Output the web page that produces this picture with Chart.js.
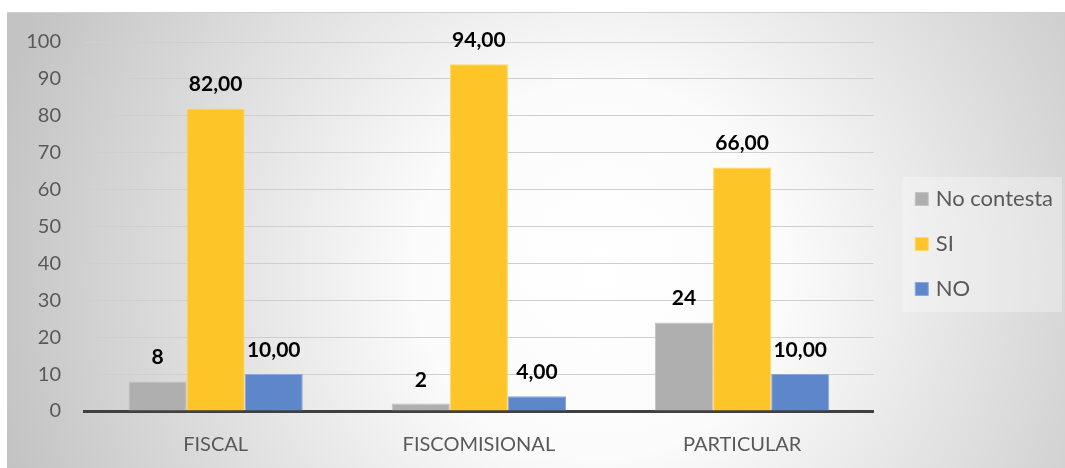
<!DOCTYPE html>
<html>
<head>
<meta charset="utf-8">
<script src="https://cdn.jsdelivr.net/npm/chart.js@4/dist/chart.umd.min.js"></script>
<style>
  html, body { margin: 0; padding: 0; background: #fff; }
  #wrap { width: 1065px; height: 468px; position: relative; }
</style>
</head>
<body>
<div id="wrap"><canvas id="barChart"></canvas></div>
<script>
let categories = ['FISCAL', 'FISCOMISIONAL', 'PARTICULAR'];
let seriesNames = ['No contesta', 'SI', 'NO'];
let noContesta = [8, 2, 24];
let si = [82, 94, 66];
let no = [10, 4, 10];
let labelDecimals = [0, 2, 2];
let yTicks = [0, 10, 20, 30, 40, 50, 60, 70, 80, 90, 100];

let fontName = 'Lato, "Open Sans", sans-serif';

// panel background with the soft radial gradient and the lighter legend box
let panelBackground = {
    id: 'panelBackground',
    beforeDraw(chart) {
        let ctx = chart.ctx;
        ctx.save();
        ctx.fillStyle = '#ffffff';
        ctx.fillRect(0, 0, chart.width, chart.height);
        let g = ctx.createRadialGradient(600, 270, 0, 600, 270, 620);
        g.addColorStop(0, '#ffffff');
        g.addColorStop(0.3, '#fbfbfb');
        g.addColorStop(1, '#c3c3c3');
        ctx.fillStyle = g;
        ctx.fillRect(7, 12, chart.width - 7, chart.height - 12);
        ctx.fillStyle = '#cfcfcf';
        ctx.fillRect(7, 12, chart.width - 7, 1);

        let boxes = chart.legend.legendHitBoxes;
        if (boxes && boxes.length) {
            let first = boxes[0];
            let last = boxes[boxes.length - 1];
            let left = first.left - 16.5;
            let top = first.top - 11;
            let bottom = last.top + last.height + 12;
            ctx.fillStyle = 'rgba(255,255,255,0.3)';
            ctx.fillRect(left, top, chart.width - 3 - left, bottom - top);
        }
        ctx.restore();
    }
};

// value labels above every bar
let barLabels = {
    id: 'barLabels',
    afterDatasetsDraw(chart) {
        let ctx = chart.ctx;
        ctx.save();
        ctx.font = 'bold 21px ' + fontName;
        ctx.fillStyle = '#000000';
        ctx.textAlign = 'center';
        ctx.textBaseline = 'alphabetic';
        chart.data.datasets.forEach((ds, i) => {
            let meta = chart.getDatasetMeta(i);
            meta.data.forEach((bar, j) => {
                let txt = ds.data[j].toFixed(labelDecimals[i]).replace('.', ',');
                ctx.fillText(txt, bar.x, bar.y - 17);
            });
        });
        ctx.restore();
    }
};

let canvasBar = document.getElementById('barChart');
let ctxBar = canvasBar.getContext('2d');

let barChart = new Chart(ctxBar, {
    type: 'bar',
    data: {
        labels: categories,
        datasets: [{
            label: seriesNames[0],
            data: noContesta,
            backgroundColor: '#afafaf',
            borderColor: '#c4c4c4',
            borderWidth: 1
        }, {
            label: seriesNames[1],
            data: si,
            backgroundColor: '#fdc527',
            borderColor: '#ffd866',
            borderWidth: 1
        }, {
            label: seriesNames[2],
            data: no,
            backgroundColor: '#5e87cb',
            borderColor: '#8aa8dc',
            borderWidth: 1
        }]
    },
    options: {
        responsive: true,
        maintainAspectRatio: false,
        animation: false,
        categoryPercentage: 0.662,
        barPercentage: 1,
        layout: {
            padding: { left: 26, right: 2, top: 32, bottom: 12 }
        },
        plugins: {
            // empty spacer above the plot only, so the legend keeps its centre
            title: {
                display: true,
                text: '',
                fullSize: false,
                padding: 0,
                font: { size: 10, lineHeight: 1 }
            },
            legend: {
                display: true,
                position: 'right',
                align: 'center',
                labels: {
                    color: '#595959',
                    font: { family: fontName, size: 22 },
                    usePointStyle: true,
                    pointStyle: 'rect',
                    boxWidth: 6,
                    boxHeight: 13,
                    padding: 23
                }
            },
            tooltip: { enabled: false }
        },
        scales: {
            x: {
                grid: { display: false, drawTicks: false },
                border: { display: true, color: '#404040', width: 3 },
                ticks: {
                    color: '#595959',
                    padding: 22,
                    font: { family: fontName, size: 20 }
                },
                afterFit(scale) {
                    scale.height = 45;
                }
            },
            y: {
                min: 0,
                max: 100,
                afterBuildTicks(scale) {
                    scale.ticks = yTicks.map(v => ({ value: v }));
                },
                grid: { color: '#cfcfcf', drawTicks: false },
                border: { display: false },
                ticks: {
                    color: '#595959',
                    padding: 23,
                    font: { family: fontName, size: 20 }
                },
                afterFit(scale) {
                    scale.width = 58;
                }
            },
            y2: {
                position: 'right',
                grid: { display: false, drawTicks: false },
                border: { display: false },
                ticks: { display: false },
                afterFit(scale) {
                    scale.width = 22;
                }
            }
        }
    },
    plugins: [panelBackground, barLabels]
});
</script>
</body>
</html>
